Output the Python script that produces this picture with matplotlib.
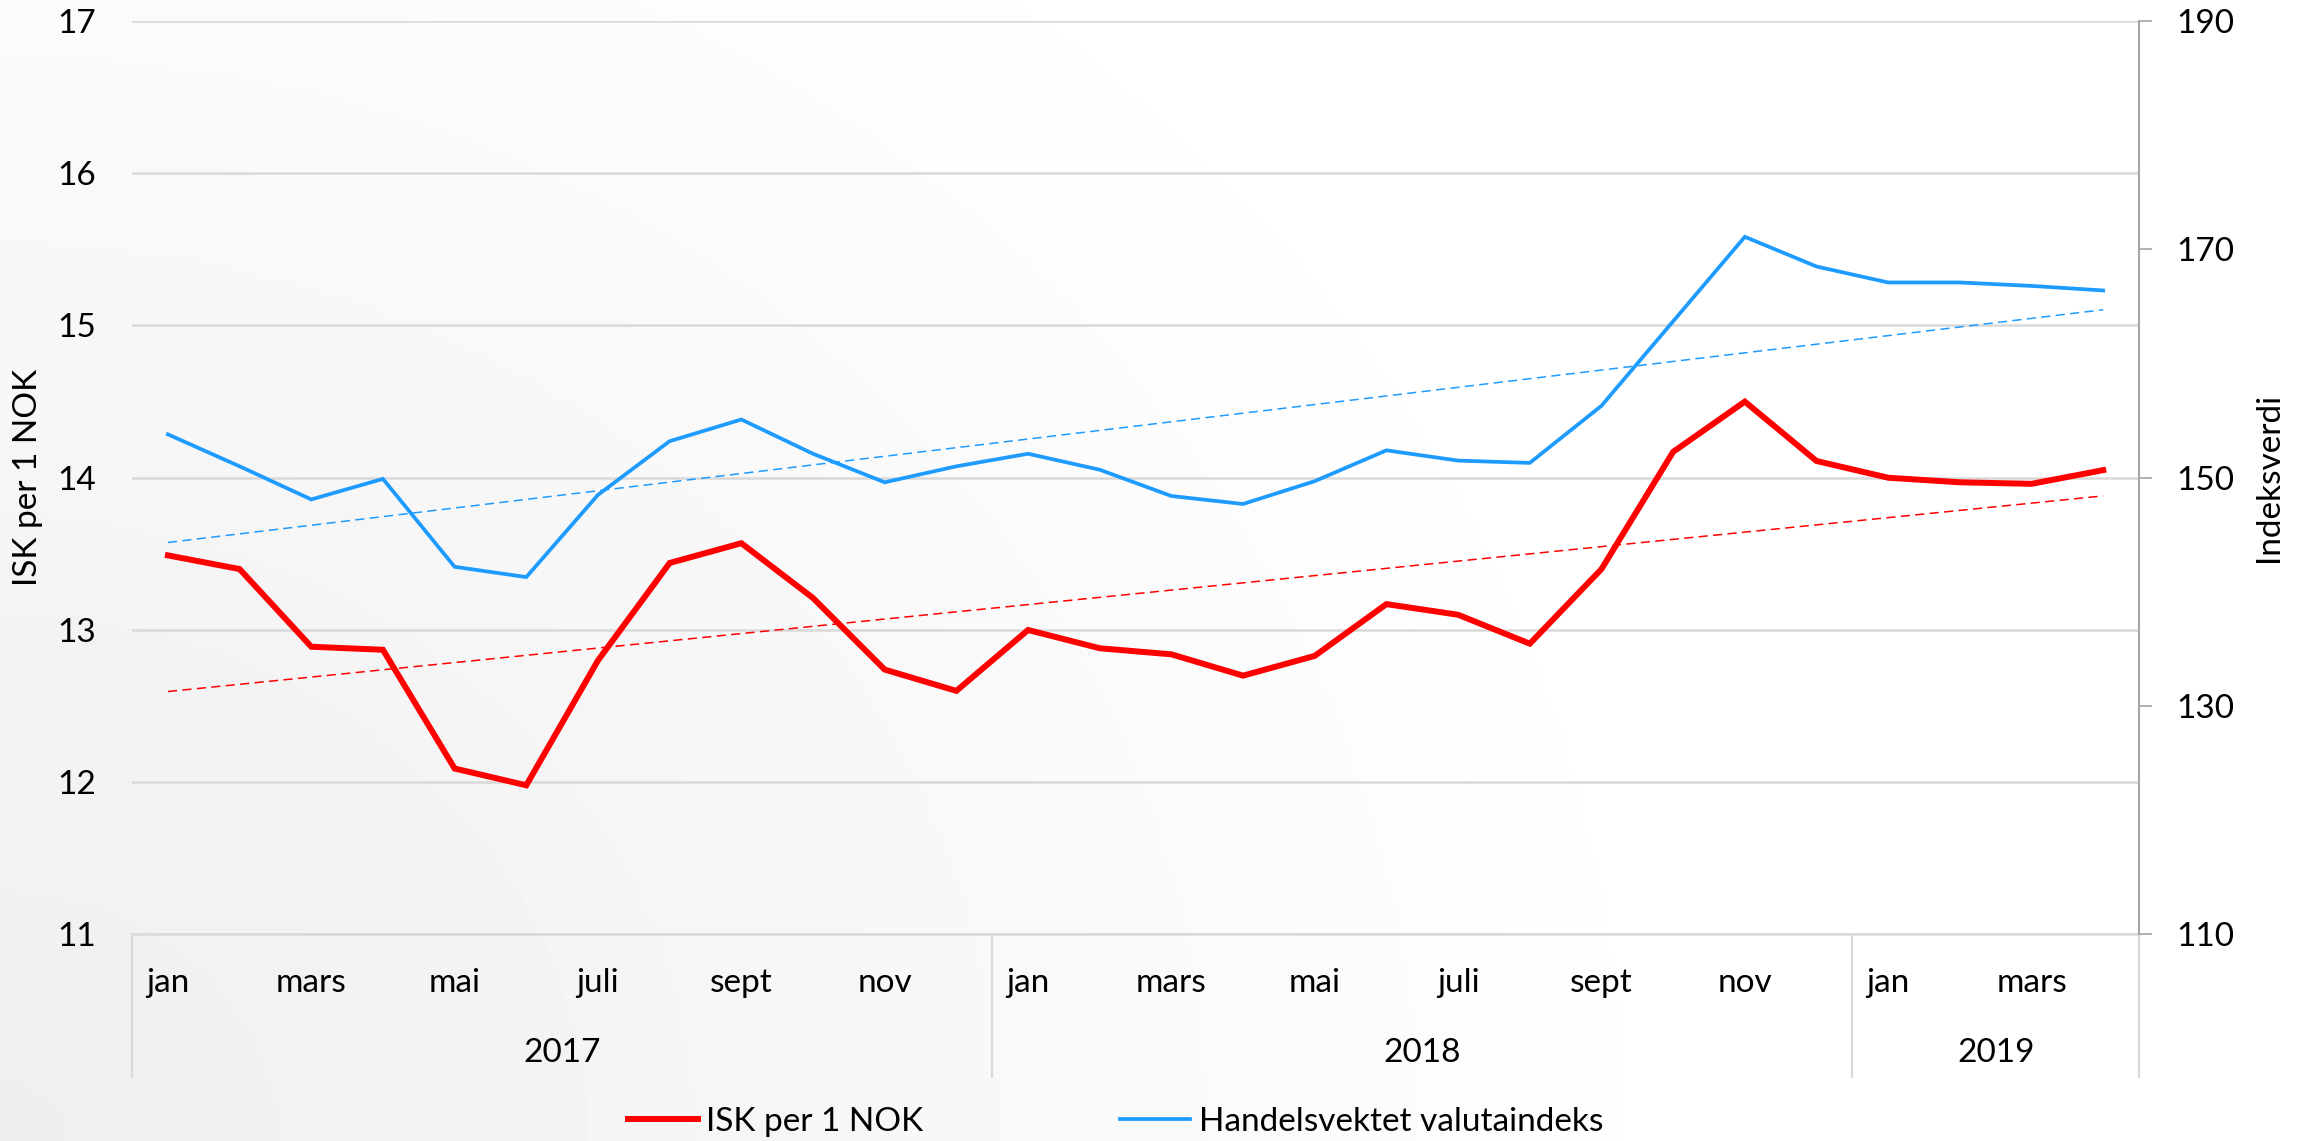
import numpy as np
import matplotlib
matplotlib.use("Agg")
import matplotlib.pyplot as plt
import matplotlib.transforms as mtransforms

plt.rcParams['font.family'] = ['Lato', 'DejaVu Sans']

# månedlige verdier jan 2017 - apr 2019
maaneder = ['jan', 'feb', 'mars', 'april', 'mai', 'juni', 'juli', 'aug', 'sept', 'okt', 'nov', 'des'] * 2 + \
           ['jan', 'feb', 'mars', 'april']
aar = ['2017', '2018', '2019']
aar_lengde = [12, 12, 4]

isk_per_nok = [13.49, 13.40, 12.89, 12.87, 12.09, 11.98, 12.80, 13.44, 13.57, 13.21, 12.74, 12.60,
               13.00, 12.88, 12.84, 12.70, 12.83, 13.17, 13.10, 12.91, 13.40, 14.17, 14.50, 14.11,
               14.00, 13.97, 13.96, 14.05]
valutaindeks = [153.8, 151.0, 148.1, 149.9, 142.2, 141.3, 148.5, 153.2, 155.1, 152.1, 149.6, 151.0,
                152.1, 150.7, 148.4, 147.7, 149.7, 152.4, 151.5, 151.3, 156.3, 163.7, 171.1, 168.5,
                167.1, 167.1, 166.8, 166.4]

RED = '#FF0000'
BLUE = '#1E9BFF'
GRID = '#D9D9D9'
FS = 24

x = np.arange(len(isk_per_nok))

fig = plt.figure(figsize=(23.05, 11.41), dpi=100)

# bakgrunn med svak gradient
bg = fig.add_axes([0, 0, 1, 1], zorder=-10)
xx, yy = np.meshgrid(np.linspace(0, 1, 400), np.linspace(1, 0, 200))
r = np.sqrt(xx ** 2 + (yy * 0.55) ** 2)
grey = 0.935 + 0.065 * np.clip(r / 0.75, 0, 1)
bg.imshow(grey, cmap='gray', vmin=0, vmax=1, aspect='auto', extent=[0, 1, 0, 1])
bg.axis('off')

ax = fig.add_axes([0.0573, 0.181, 0.8707, 0.8006])
ax.patch.set_alpha(0)
ax2 = ax.twinx()
ax2.patch.set_alpha(0)

# trendlinjer
k1 = np.polyfit(x, isk_per_nok, 1)
k2 = np.polyfit(x, valutaindeks, 1)
ax.plot(x, np.polyval(k1, x), color=RED, lw=1.1, linestyle=(0, (6, 3.5)), zorder=2)
ax2.plot(x, np.polyval(k2, x), color=BLUE, lw=1.1, linestyle=(0, (6, 3.5)), zorder=2)

l1, = ax.plot(x, isk_per_nok, color=RED, lw=4.3, solid_joinstyle='miter', zorder=3, label='ISK per 1 NOK')
l2, = ax2.plot(x, valutaindeks, color=BLUE, lw=2.7, solid_joinstyle='miter', zorder=3,
               label='Handelsvektet valutaindeks')

ax.set_xlim(-0.5, len(x) - 0.5)
ax.set_ylim(11, 17)
ax.set_yticks(range(11, 18))
ax2.set_ylim(110, 190)
ax2.set_yticks(range(110, 191, 20))

ax.grid(axis='y', color=GRID, lw=1.8)
ax.set_axisbelow(True)

for s in ['left', 'top', 'right']:
    ax.spines[s].set_visible(False)
ax.spines['bottom'].set_color(GRID)
ax.spines['bottom'].set_linewidth(1.8)
for s in ['left', 'top', 'bottom']:
    ax2.spines[s].set_visible(False)
ax2.spines['right'].set_color('#A6A6A6')
ax2.spines['right'].set_linewidth(1.5)

ax.tick_params(axis='y', length=0, pad=26, labelsize=FS)
ax2.tick_params(axis='y', length=9, width=1.2, color='#A6A6A6', pad=18, labelsize=FS)
ax.set_xticks(x[::2])
ax.set_xticklabels(maaneder[::2])
ax.tick_params(axis='x', length=0, pad=24, labelsize=FS)

ax.set_ylabel('ISK per 1 NOK', fontsize=FS, labelpad=10)
ax2.set_ylabel('Indeksverdi', fontsize=FS, labelpad=14)

# årsgrupper under aksen
trans = mtransforms.blended_transform_factory(ax.transData, ax.transAxes)
grenser = np.concatenate([[0], np.cumsum(aar_lengde)]) - 0.5
for b in grenser:
    ax.plot([b, b], [0, -0.156], transform=trans, color=GRID, lw=1.5, clip_on=False)
for i, a in enumerate(aar):
    ax.text((grenser[i] + grenser[i + 1]) / 2, -0.13, a, transform=trans,
            ha='center', va='center', fontsize=FS)

fig.legend([l1, l2], [l1.get_label(), l2.get_label()], loc='center', bbox_to_anchor=(0.484, 0.017),
           ncol=2, frameon=False, fontsize=FS, handlelength=2.1, handletextpad=0.25, columnspacing=5.9)

fig.savefig('out.png', dpi=100)
